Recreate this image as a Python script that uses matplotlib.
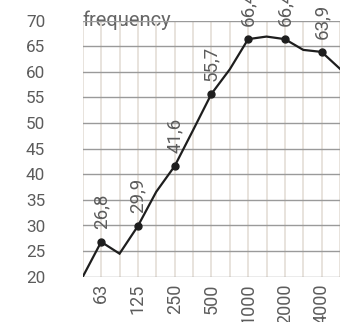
import matplotlib
matplotlib.use("Agg")
import matplotlib.pyplot as plt
import numpy as np

# Half-octave bands
bands = ["45", "63", "90", "125", "180", "250", "355", "500", "710",
         "1000", "1400", "2000", "2800", "4000", "5600"]
values = [20.0, 26.8, 24.5, 29.9, 36.6, 41.6, 48.6, 55.7, 60.5,
          66.4, 66.9, 66.4, 64.3, 63.9, 60.6]
# Octave bands that carry a marker, a value label and a tick label
octave_bands = ["63", "125", "250", "500", "1000", "2000", "4000"]
octave_labels = ["26,8", "29,9", "41,6", "55,7", "66,4", "66,4", "63,9"]
yticks = [20, 25, 30, 35, 40, 45, 50, 55, 60, 65, 70]

W, H = 340, 322
fig = plt.figure(figsize=(W / 100, H / 100), dpi=100)
ax = fig.add_axes([82.8 / W, 1 - 276.7 / H, 1 - 82.8 / W, (276.7 - 20.7) / H])

font = "Roboto"
wt = 350
tick_color = "#5c5c5c"

x = np.arange(len(bands))
ax.plot(x, values, color="#1e1e1e", lw=1.6, zorder=4, solid_joinstyle="miter")

oct_idx = [bands.index(b) for b in octave_bands]
oct_vals = [values[i] for i in oct_idx]
ax.plot(oct_idx, oct_vals, "o", color="#1e1e1e", ms=5, zorder=5)
for xi, yv, lab in zip(oct_idx, oct_vals, octave_labels):
    ax.annotate(lab, (xi, yv), xytext=(0, 9.5), textcoords="offset points",
                rotation=90, ha="center", va="bottom", color=tick_color,
                fontsize=13.5, family=font, fontweight=wt,
                annotation_clip=False, zorder=6)

ax.set_xlim(0, 13.61)
ax.set_ylim(20, 70)
ax.set_xticks(x)
ax.set_xticklabels([b if b in octave_bands else "" for b in bands],
                   rotation=90, family=font, fontsize=13, color=tick_color,
                   fontweight=wt)
ax.set_yticks(yticks)
ax.set_yticklabels([str(v) for v in yticks], family=font, fontsize=12.3,
                   color=tick_color, fontweight=wt)
ax.tick_params(axis="both", length=0)
ax.tick_params(axis="y", pad=27)
ax.tick_params(axis="x", pad=4.7)
for s in ax.spines.values():
    s.set_visible(False)

ax.set_axisbelow(False)
ax.xaxis.grid(True, color="#e6e1da", lw=1.3, zorder=1)
ax.yaxis.grid(True, color="#9a9a9a", lw=1.0, zorder=2)
for gl in ax.get_xgridlines():
    gl.set_zorder(1)
for gl in ax.get_ygridlines():
    gl.set_zorder(2)

ax.text(0, 1, "frequency", transform=ax.transAxes, ha="left", va="center",
        color="#666666", fontsize=14.5, family=font, fontweight=wt,
        zorder=1.5)

fig.savefig("out.png", dpi=100)
